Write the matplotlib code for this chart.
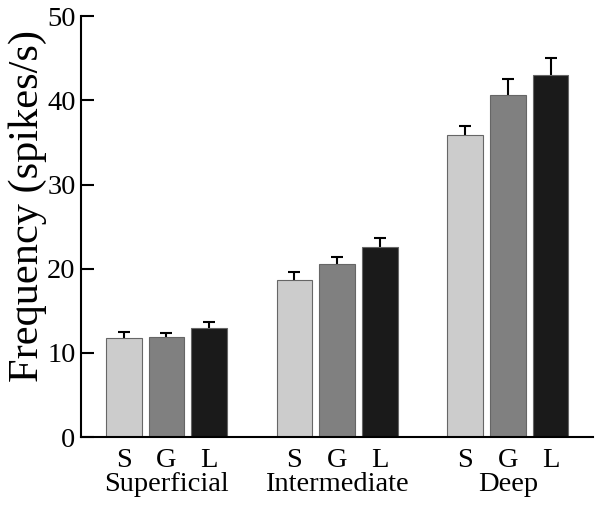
import matplotlib.pyplot as plt
import numpy as np

plt.rcParams['font.family'] = ['Liberation Serif', 'DejaVu Serif']

groups = ['Superficial', 'Intermediate', 'Deep']
conds = ['S', 'G', 'L']
colors = ['#cccccc', '#808080', '#1a1a1a']
means = [[11.8, 11.9, 12.9],
         [18.6, 20.6, 22.6],
         [35.9, 40.6, 43.0]]
errs = [[0.7, 0.5, 0.8],
        [1.0, 0.8, 1.1],
        [1.1, 1.9, 2.0]]

fig = plt.figure(figsize=(6.01, 5.07), dpi=100)
ax = fig.add_axes([0.135, 0.138, 0.852, 0.830])

xs, labels = [], []
for g in range(3):
    for c in range(3):
        x = 1 + 4 * g + c
        # error bar sits under the bar, so only the upper half shows
        ax.errorbar(x, means[g][c], yerr=errs[g][c], fmt='none',
                    ecolor='black', elinewidth=1.5, capsize=4, capthick=1.5, zorder=1)
        ax.bar(x, means[g][c], width=0.83, color=colors[c],
               edgecolor='#666666', linewidth=0.8, zorder=2)
        xs.append(x)
        labels.append(conds[c])
    ax.text(2 + 4 * g, -5.6, groups[g], ha='center', va='center', fontsize=20.5)

ax.set_xlim(0, 12)
ax.set_ylim(0, 50)
ax.set_xticks(xs)
ax.set_xticklabels(labels, fontsize=20.5)
ax.set_yticks(np.arange(0, 51, 10))
ax.tick_params(axis='y', direction='in', length=9, width=1.5, labelsize=20.5, pad=4)
ax.tick_params(axis='x', length=0, pad=8)
for s in ['top', 'right']:
    ax.spines[s].set_visible(False)
for s in ['left', 'bottom']:
    ax.spines[s].set_linewidth(1.5)
ax.set_ylabel('Frequency (spikes/s)', fontsize=30.5)
ax.yaxis.set_label_coords(-0.066, 0.55)

fig.savefig('out.png', dpi=100)
